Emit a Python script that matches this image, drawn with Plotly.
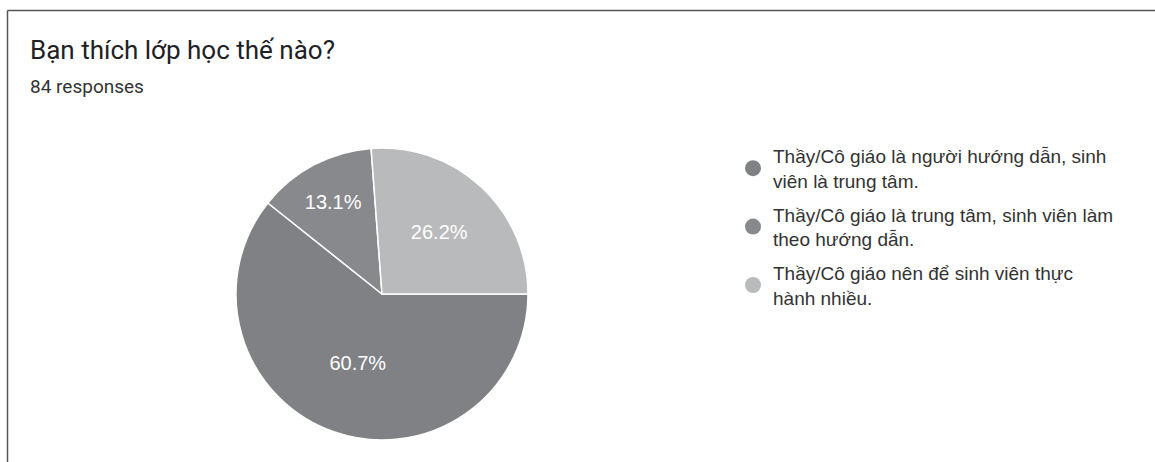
import plotly.graph_objects as go

W, H = 1155, 462

labels = [
    "Thầy/Cô giáo là người hướng dẫn, sinh<br>viên là trung tâm.",
    "Thầy/Cô giáo là trung tâm, sinh viên làm<br>theo hướng dẫn.",
    "Thầy/Cô giáo nên để sinh viên thực<br>hành nhiều.",
]
counts = [51, 11, 22]
colors = ["#808184", "#88898c", "#b9babc"]

title_text = "Bạn thích lớp học thế nào?"
subtitle_text = "84 responses"

cx, cy, r = 382, 294, 146

fig = go.Figure(go.Pie(
    labels=labels,
    values=counts,
    sort=False,
    direction="clockwise",
    rotation=90,
    marker=dict(colors=colors, line=dict(color="white", width=1.5)),
    textinfo="percent",
    texttemplate="%{percent:.1%}",
    textposition="inside",
    insidetextorientation="horizontal",
    textfont=dict(color="white", size=20, family="Liberation Sans, Arial"),
    domain=dict(x=[(cx - r) / W, (cx + r) / W], y=[(H - cy - r) / H, (H - cy + r) / H]),
    hoverinfo="label+percent",
    showlegend=False,
))

# legend entries with circular markers
for lab, col in zip(labels, colors):
    fig.add_trace(go.Scatter(
        x=[None], y=[None], mode="markers", name=lab,
        marker=dict(symbol="circle", size=16, color=col),
        legendgroup=lab, showlegend=True, hoverinfo="skip",
    ))

fig.update_layout(
    width=W, height=H,
    margin=dict(l=0, r=0, t=0, b=0),
    paper_bgcolor="white",
    plot_bgcolor="white",
    xaxis=dict(visible=False, domain=[0.99, 1]),
    yaxis=dict(visible=False, domain=[0.99, 1]),
    showlegend=True,
    legend=dict(
        x=733 / W, y=1 - 137 / H, xanchor="left", yanchor="top",
        font=dict(size=19, color="#333333", family="Liberation Sans, Arial"),
        itemsizing="trace",
        tracegroupgap=6,
        bgcolor="rgba(0,0,0,0)",
    ),
    font=dict(family="Liberation Sans, Arial"),
    annotations=[
        dict(text=title_text, x=28 / W, y=1 - 33 / H, xref="paper", yref="paper",
             xanchor="left", yanchor="top", showarrow=False,
             font=dict(size=26, color="#202124", family="Roboto, Liberation Sans")),
        dict(text=subtitle_text, x=28 / W, y=1 - 73 / H, xref="paper", yref="paper",
             xanchor="left", yanchor="top", showarrow=False,
             font=dict(size=19, color="#333333", family="Roboto, Liberation Sans")),
    ],
    shapes=[
        dict(type="line", xref="paper", yref="paper", x0=7.5 / W, x1=1, y0=1 - 10.5 / H, y1=1 - 10.5 / H,
             line=dict(color="#555555", width=1.5)),
        dict(type="line", xref="paper", yref="paper", x0=7.5 / W, x1=7.5 / W, y0=0, y1=1 - 10.5 / H,
             line=dict(color="#555555", width=1.5)),
    ],
)

fig.write_html("out.html", config={"displayModeBar": False},
               post_script="document.body.style.margin='0';")
